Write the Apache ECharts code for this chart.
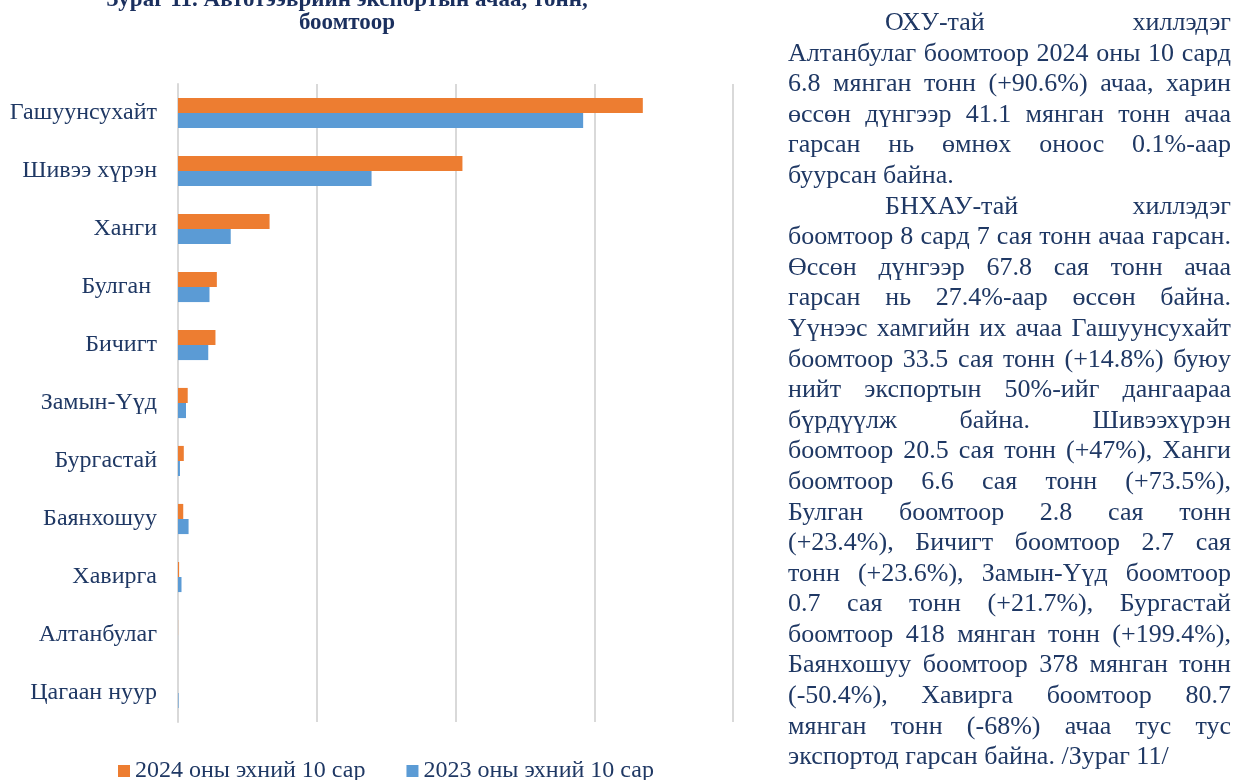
<!DOCTYPE html>
<html>
<head>
<meta charset="utf-8">
<script src="https://cdn.jsdelivr.net/npm/echarts@6/dist/echarts.min.js"></script>
<style>
  html, body { margin: 0; padding: 0; background: #ffffff; }
  #wrap { position: relative; width: 1234px; height: 780px; overflow: hidden; }
  #chart { position: absolute; left: 0; top: 0; width: 1234px; height: 780px; }
  #text { position: absolute; left: 788px; top: 7px; width: 443px;
          font-family: "Liberation Serif", "Times New Roman", serif; font-size: 26px;
          color: #1f3864; }
  #text .ln { height: 30.6px; line-height: 30.6px; overflow: visible;
              text-align: justify; text-align-last: justify; }
  #text .ln.last { text-align-last: left; }
  #text .ln.ind { padding-left: 97px; }
</style>
</head>
<body>
<div id="wrap">
  <div id="chart"></div>
  <div id="text"></div>
</div>
<script>
// ---- data ----
const categories = ['Гашуунсухайт', 'Шивээ хүрэн', 'Ханги', 'Булган ', 'Бичигт', 'Замын-Үүд',
                    'Бургастай', 'Баянхошуу', 'Хавирга', 'Алтанбулаг', 'Цагаан нуур'];
const values2024 = [33500000, 20500000, 6600000, 2800000, 2700000, 700000, 418000, 378000, 80700, 6800, 0];
const values2023 = [29200000, 13950000, 3800000, 2270000, 2180000, 575000, 140000, 762000, 252000, 3600, 40000];
const seriesNames = ['2024 оны эхний 10 сар', '2023 оны эхний 10 сар'];
const titleText = 'Зураг 11. Автотээврийн экспортын ачаа, тонн,\nбоомтоор';
const axisMax = 40000000;
const axisStep = 10000000;

// paragraph lines: [text, indent, lastOfParagraph]
const textLines = [
  ['ОХУ-тай хиллэдэг', true, false],
  ['Алтанбулаг боомтоор 2024 оны 10 сард', false, false],
  ['6.8 мянган тонн (+90.6%) ачаа, харин', false, false],
  ['өссөн дүнгээр 41.1 мянган тонн ачаа', false, false],
  ['гарсан нь өмнөх оноос 0.1%-аар', false, false],
  ['буурсан байна.', false, true],
  ['БНХАУ-тай хиллэдэг', true, false],
  ['боомтоор 8 сард 7 сая тонн ачаа гарсан.', false, false],
  ['Өссөн дүнгээр 67.8 сая тонн ачаа', false, false],
  ['гарсан нь 27.4%-аар өссөн байна.', false, false],
  ['Үүнээс хамгийн их ачаа Гашуунсухайт', false, false],
  ['боомтоор 33.5 сая тонн (+14.8%) буюу', false, false],
  ['нийт экспортын 50%-ийг дангаараа', false, false],
  ['бүрдүүлж байна. Шивээхүрэн', false, false],
  ['боомтоор 20.5 сая тонн (+47%), Ханги', false, false],
  ['боомтоор 6.6 сая тонн (+73.5%),', false, false],
  ['Булган боомтоор 2.8 сая тонн', false, false],
  ['(+23.4%), Бичигт боомтоор 2.7 сая', false, false],
  ['тонн (+23.6%), Замын-Үүд боомтоор', false, false],
  ['0.7 сая тонн (+21.7%), Бургастай', false, false],
  ['боомтоор 418 мянган тонн (+199.4%),', false, false],
  ['Баянхошуу боомтоор 378 мянган тонн', false, false],
  ['(-50.4%), Хавирга боомтоор 80.7', false, false],
  ['мянган тонн (-68%) ачаа тус тус', false, false],
  ['экспортод гарсан байна. /Зураг 11/', false, true]
];

// ---- paragraph text ----
const tEl = document.getElementById('text');
textLines.forEach(function (l) {
  const d = document.createElement('div');
  d.className = 'ln' + (l[1] ? ' ind' : '') + (l[2] ? ' last' : '');
  d.textContent = l[0];
  tEl.appendChild(d);
});

// ---- chart ----
const navy = '#1f3864';
const font = '"Liberation Serif", "Times New Roman", serif';
const chart = echarts.init(document.getElementById('chart'), null, { renderer: 'canvas' });
chart.setOption({
  animation: false,
  backgroundColor: '#ffffff',
  title: {
    text: titleText,
    left: 342,
    top: -16,
    textAlign: 'center',
    textStyle: { fontFamily: font, fontSize: 23, fontWeight: 'bold', color: '#1a2f5e', lineHeight: 23 }
  },
  legend: {
    data: seriesNames,
    left: 113,
    top: 754,
    icon: 'rect',
    itemWidth: 12,
    itemHeight: 12,
    itemGap: 41,
    textStyle: { fontFamily: font, fontSize: 24, color: navy }
  },
  grid: { left: 178, top: 84, width: 555, height: 638, containLabel: false },
  xAxis: {
    type: 'value',
    min: 0,
    max: axisMax,
    interval: axisStep,
    axisLabel: { show: false },
    axisLine: { show: false },
    axisTick: { show: false },
    splitLine: { show: true, lineStyle: { color: '#d9d9d9', width: 2 } }
  },
  yAxis: {
    type: 'category',
    data: categories,
    inverse: true,
    axisLine: { show: true, lineStyle: { color: '#d9d9d9', width: 2 } },
    axisTick: { show: false },
    axisLabel: { fontFamily: font, fontSize: 24, color: navy, margin: 21 }
  },
  series: [
    {
      name: seriesNames[0], type: 'bar', data: values2024,
      barGap: '0%', barCategoryGap: '48%',
      itemStyle: { color: '#ed7d31' }
    },
    {
      name: seriesNames[1], type: 'bar', data: values2023,
      barGap: '0%', barCategoryGap: '48%',
      itemStyle: { color: '#5b9bd5' }
    }
  ]
});
</script>
</body>
</html>
